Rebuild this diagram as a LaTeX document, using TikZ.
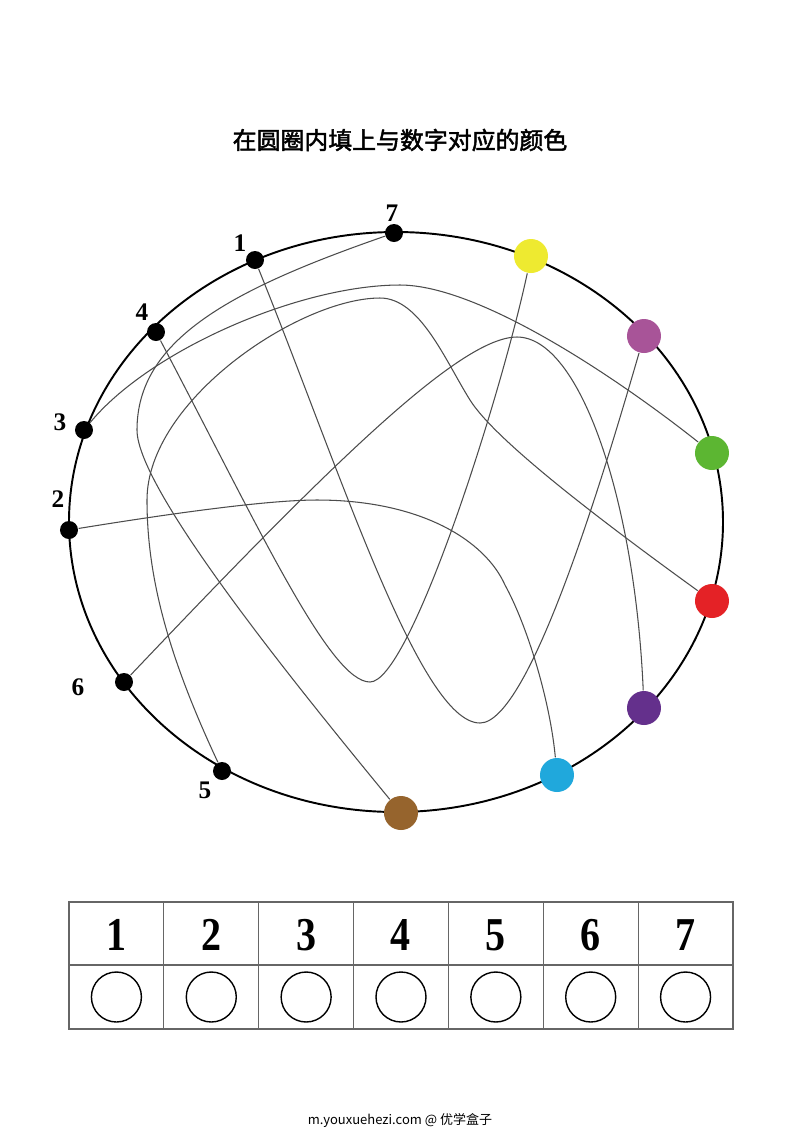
\documentclass[tikz,border=0pt]{standalone}
\usepackage{fontspec}
\setmainfont{Liberation Serif}
\newfontfamily\cjk{Noto Sans CJK SC}
\newfontfamily\cjktitle[FakeBold=2]{Noto Sans CJK SC}
\usepackage{xcolor}
\usepackage{tikz}
\usetikzlibrary{backgrounds}
\definecolor{DotYellow}{RGB}{238,234,48}
\definecolor{DotPink}{RGB}{168,84,152}
\definecolor{DotGreen}{RGB}{92,182,50}
\definecolor{DotRed}{RGB}{228,34,38}
\definecolor{DotPurple}{RGB}{100,48,140}
\definecolor{DotBlue}{RGB}{32,168,220}
\definecolor{DotBrown}{RGB}{150,100,45}

\begin{document}
\begin{tikzpicture}[x=0.1mm, y=-0.1mm,
    numdot/.style={circle, fill=black, inner sep=0pt, minimum size=1.8mm},
    coldot/.style={circle, fill=#1, inner sep=0pt, minimum size=3.4mm},
    numlabel/.style={font=\fontsize{7.2}{8}\selectfont\bfseries},
    wire/.style={draw=black!70, line width=0.3pt},
    grid/.style={draw=black!60, line width=0.3pt}]
    \useasboundingbox (0,0) rectangle (800,1132);

    % Title
    \node (title) at (400,140) {\cjktitle\fontsize{6.8}{8}\selectfont 在圆圈内填上与数字对应的颜色};

    % Numbered dots
    \node[numdot] (n7) at (394,233) {};
    \node[numdot] (n1) at (255,260) {};
    \node[numdot] (n4) at (156,332) {};
    \node[numdot] (n3) at (84,430) {};
    \node[numdot] (n2) at (69,530) {};
    \node[numdot] (n6) at (124,682) {};
    \node[numdot] (n5) at (222,771) {};
    \node[numlabel] at (392,213) {7};
    \node[numlabel] at (240,243) {1};
    \node[numlabel] at (142,312) {4};
    \node[numlabel] at (60,422) {3};
    \node[numlabel] at (58,499) {2};
    \node[numlabel] at (78,687) {6};
    \node[numlabel] at (205,790) {5};

    % Coloured dots
    \node[coldot=DotYellow] (yellowdot) at (531,256) {};
    \node[coldot=DotPink] (pinkdot) at (644,336) {};
    \node[coldot=DotGreen] (greendot) at (712,453) {};
    \node[coldot=DotRed] (reddot) at (712,601) {};
    \node[coldot=DotPurple] (purpledot) at (644,708) {};
    \node[coldot=DotBlue] (bluedot) at (557,775) {};
    \node[coldot=DotBrown] (browndot) at (401,813) {};

    % Ring and tangled lines
    \begin{scope}[on background layer]
        \fill[white] (0,0) rectangle (800,1132);
        \draw[line width=0.55pt] (396,522) ellipse [x radius=327, y radius=290];
        \draw[wire] (n1) .. controls (340,470) and (420,723) .. (480,723)
            .. controls (530,723) and (605,470) .. (pinkdot);
        \draw[wire] (n2) .. controls (180,512) and (270,500) .. (317,500)
            .. controls (420,500) and (485,540) .. (505,585)
            .. controls (527,625) and (550,700) .. (bluedot);
        \draw[wire] (n3) .. controls (150,350) and (300,285) .. (400,285)
            .. controls (480,285) and (620,380) .. (greendot);
        \draw[wire] (n4) .. controls (260,530) and (330,682) .. (370,682)
            .. controls (410,682) and (500,400) .. (yellowdot);
        \draw[wire] (n5) .. controls (170,660) and (147,580) .. (147,500)
            .. controls (147,400) and (300,298) .. (380,298)
            .. controls (420,298) and (445,360) .. (470,400)
            .. controls (495,440) and (600,520) .. (reddot);
        \draw[wire] (n6) .. controls (330,465) and (460,337) .. (517,337)
            .. controls (580,337) and (635,500) .. (purpledot);
        \draw[wire] (n7) .. controls (230,290) and (137,340) .. (137,430)
            .. controls (137,490) and (300,690) .. (browndot);
    \end{scope}

    % Answer table
    \draw[grid] (69,902) rectangle (733,1029);
    \draw[grid] (69,965) -- (733,965);
    \foreach \i in {1,...,6}
        \draw[grid] ({69+94.857*\i},902) -- ({69+94.857*\i},1029);
    \foreach \i in {1,...,7} {
        \node[font=\fontsize{13.4}{15}\selectfont\bfseries, xscale=0.85] (num\i) at ({69+94.857*(\i-0.5)},935) {\i};
        \draw[line width=0.4pt] ({69+94.857*(\i-0.5)},997) circle [radius=25];
    }

    % Footer
    \node (footer) at (400,1120) {\cjk\fontsize{3.7}{4.5}\selectfont m.youxuehezi.com @ 优学盒子};
\end{tikzpicture}
\end{document}
